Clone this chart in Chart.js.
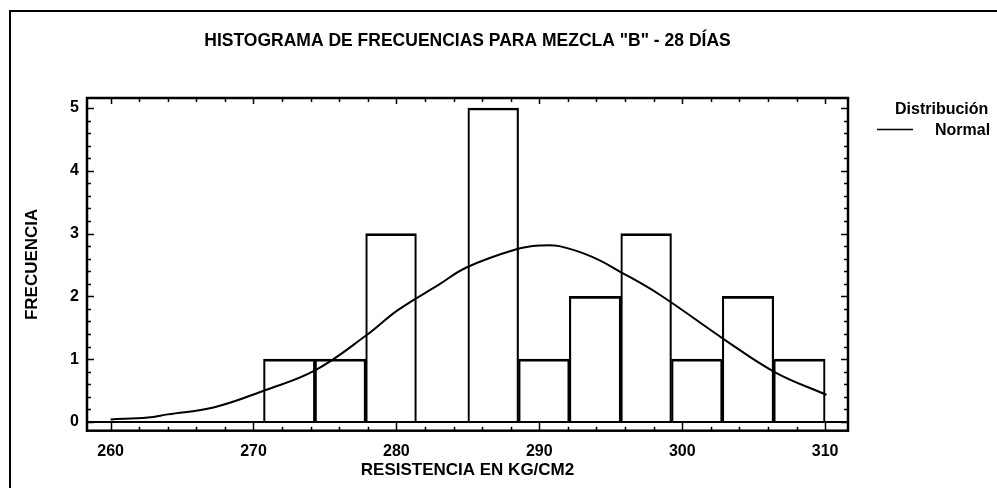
<!DOCTYPE html>
<html>
<head>
<meta charset="utf-8">
<script src="https://cdn.jsdelivr.net/npm/chart.js@4"></script>
<style>
    html, body { margin: 0; padding: 0; background: #fff; }
    #wrap { width: 997px; height: 488px; }
</style>
</head>
<body>
<div id="wrap"><canvas id="histChart" width="997" height="488"></canvas></div>
<script>
// histogram classes (centres) and frequencies
const binCenters = [272.5, 276.1, 279.6, 283.2, 286.8, 290.3, 293.9, 297.5, 301.0, 304.6, 308.2];
const binCounts = [1, 1, 3, 0, 5, 1, 2, 3, 1, 2, 1];

// fitted normal curve
const curveX = [260, 262.6, 264, 267.2, 270.75, 274.3, 277.9, 280.1, 283.0, 284.9, 288.4, 290.1, 291.4, 293.7, 295.6, 298.4, 302.9, 306.5, 310.1];
const curveY = [0.04, 0.07, 0.12, 0.23, 0.5, 0.82, 1.38, 1.78, 2.19, 2.46, 2.75, 2.81, 2.8, 2.63, 2.4, 2.03, 1.32, 0.79, 0.43];

const xTicks = [260, 270, 280, 290, 300, 310];
const yTicks = [0, 1, 2, 3, 4, 5];

const FONT = '"Liberation Sans", Arial, sans-serif';
Chart.defaults.font.family = FONT;
Chart.defaults.color = '#000';

// frame with inward ticks, baseline, outer border and legend
const framePlugin = {
    id: 'framePlugin',
    beforeDraw(chart) {
        const ctx = chart.ctx;
        ctx.save();
        ctx.fillStyle = '#fff';
        ctx.fillRect(0, 0, chart.width, chart.height);
        ctx.strokeStyle = '#000';
        ctx.lineWidth = 2;
        ctx.beginPath();
        ctx.moveTo(10, chart.height);
        ctx.lineTo(10, 11);
        ctx.lineTo(chart.width, 11);
        ctx.stroke();
        ctx.restore();
    },
    afterDraw(chart) {
        const ctx = chart.ctx;
        const a = chart.chartArea;
        const xs = chart.scales.x, ys = chart.scales.y;
        ctx.save();
        ctx.strokeStyle = '#000';

        // baseline at zero
        const y0 = ys.getPixelForValue(0);
        ctx.lineWidth = 2;
        ctx.beginPath();
        ctx.moveTo(a.left, y0);
        ctx.lineTo(a.right, y0);
        ctx.stroke();

        // y ticks on both sides
        ctx.lineWidth = 1.5;
        ctx.beginPath();
        for (let i = 0; i <= 25; i++) {
            const v = i * 0.2;
            const py = Math.round(ys.getPixelForValue(v)) + 0.5;
            const len = (i % 5 === 0) ? 7 : 4;
            ctx.moveTo(a.left, py); ctx.lineTo(a.left + len, py);
            ctx.moveTo(a.right, py); ctx.lineTo(a.right - len, py);
        }
        // x ticks on top and bottom
        for (let v = 260; v <= 310; v += 2) {
            const px = Math.round(xs.getPixelForValue(v)) + 0.5;
            const major = (v % 10 === 0);
            ctx.moveTo(px, a.bottom); ctx.lineTo(px, a.bottom - (major ? 9 : 4));
            ctx.moveTo(px, a.top); ctx.lineTo(px, a.top + (major ? 6 : 4));
        }
        ctx.stroke();

        // frame
        ctx.lineWidth = 2.5;
        ctx.strokeRect(a.left, a.top, a.right - a.left, a.bottom - a.top);

        // legend
        ctx.fillStyle = '#000';
        ctx.font = 'bold 16px ' + FONT;
        ctx.textBaseline = 'middle';
        ctx.textAlign = 'left';
        ctx.fillText('Distribución', 895, 110);
        ctx.fillText('Normal', 935, 131);
        ctx.lineWidth = 1.5;
        ctx.beginPath();
        ctx.moveTo(877, 129.5);
        ctx.lineTo(913, 129.5);
        ctx.stroke();
        ctx.restore();
    }
};

const ctxHist = document.getElementById('histChart').getContext('2d');
const histChart = new Chart(ctxHist, {
    type: 'bar',
    data: {
        datasets: [{
            type: 'line',
            label: 'Normal',
            data: curveX.map((x, i) => ({ x: x, y: curveY[i] })),
            borderColor: '#000',
            borderWidth: 2,
            pointRadius: 0,
            tension: 0.4,
            fill: false
        }, {
            type: 'bar',
            label: 'Frecuencia',
            data: binCenters.map((x, i) => ({ x: x, y: binCounts[i] })),
            backgroundColor: 'rgba(255,255,255,0)',
            borderColor: '#000',
            borderWidth: { top: 2, left: 1.5, right: 1.5, bottom: 0 },
            borderSkipped: 'start',
            barThickness: 'flex',
            categoryPercentage: 1,
            barPercentage: 1
        }]
    },
    options: {
        responsive: false,
        animation: false,
        devicePixelRatio: 1,
        layout: { padding: { left: 0, top: 0, right: 149, bottom: 0 } },
        plugins: {
            legend: { display: false },
            tooltip: { enabled: false },
            title: {
                display: true,
                text: 'HISTOGRAMA DE FRECUENCIAS PARA MEZCLA "B" - 28 DÍAS',
                fullSize: false,
                color: '#000',
                font: { size: 17.5, weight: 'bold' },
                padding: { top: 31, bottom: 46 }
            }
        },
        scales: {
            x: {
                type: 'linear',
                min: 258.35,
                max: 311.6,
                offset: false,
                grid: { display: false, drawTicks: false },
                border: { display: false },
                afterBuildTicks: scale => { scale.ticks = xTicks.map(v => ({ value: v })); },
                afterFit: scale => { scale.height = 57.3; },
                ticks: {
                    padding: 11,
                    maxRotation: 0,
                    font: { size: 16, weight: 'bold' },
                    color: '#000'
                },
                title: {
                    display: true,
                    text: 'RESISTENCIA EN KG/CM2',
                    color: '#000',
                    font: { size: 17, weight: 'bold' },
                    padding: { top: 0, bottom: 7 }
                }
            },
            y: {
                min: -0.14,
                max: 5.16,
                grid: { display: false, drawTicks: false },
                border: { display: false },
                afterBuildTicks: scale => { scale.ticks = yTicks.map(v => ({ value: v })); },
                afterFit: scale => { scale.width = 87; },
                ticks: {
                    padding: 8,
                    font: { size: 16, weight: 'bold' },
                    color: '#000'
                },
                title: {
                    display: true,
                    text: 'FRECUENCIA',
                    color: '#000',
                    font: { size: 17, weight: 'bold' },
                    padding: { top: 22, bottom: 0 }
                }
            }
        }
    },
    plugins: [framePlugin]
});
</script>
</body>
</html>
